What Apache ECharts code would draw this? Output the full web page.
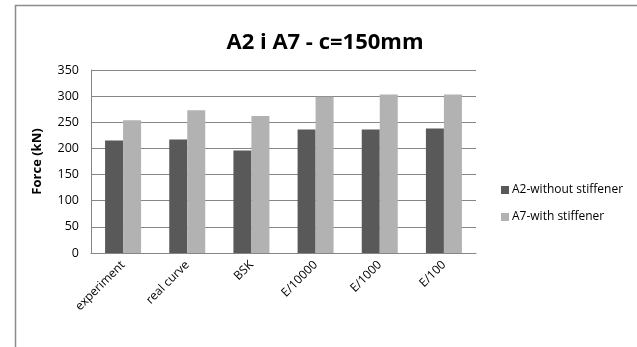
<!DOCTYPE html>
<html><head><meta charset="utf-8">
<script src="https://cdn.jsdelivr.net/npm/echarts@6/dist/echarts.min.js"></script>
<style>html,body{margin:0;padding:0;background:#fff}#c{width:637px;height:347px}</style>
</head><body><div id="c"></div>
<script>
const categories = ["experiment", "real curve", "BSK", "E/10000", "E/1000", "E/100"];
const a2Values = [215, 217, 196, 236, 236, 238];
const a7Values = [254, 273, 262, 299, 303, 303];
const seriesNames = ["A2-without stiffener", "A7-with stiffener"];
const titleText = "A2 i A7 - c=150mm";
const yAxisName = "Force (kN)";

const font = "'Open Sans', 'Noto Sans', sans-serif";
const chart = echarts.init(document.getElementById('c'), null, {renderer: 'canvas'});
chart.setOption({
  animation: false,
  backgroundColor: '#fff',
  graphic: [{
    type: 'rect', left: 13, top: 3, silent: true,
    shape: {width: 623, height: 370},
    style: {fill: 'none', stroke: '#8c8c8c', lineWidth: 1.5}
  }],
  title: {
    text: titleText, left: 320, top: 27, textAlign: 'center',
    textStyle: {fontFamily: font, fontSize: 22, fontWeight: 'bold', color: '#000'}
  },
  legend: {
    orient: 'vertical', left: 496, top: 179, itemGap: 15,
    itemWidth: 8, itemHeight: 8, icon: 'rect',
    textStyle: {fontFamily: font, fontSize: 12, color: '#000', padding: [0,0,0,-2]},
    data: seriesNames
  },
  grid: {left: 91, right: 161, top: 70, bottom: 94, containLabel: false},
  xAxis: {
    type: 'category', data: categories,
    axisLine: {lineStyle: {color: '#868686', width: 1}},
    axisTick: {show: false},
    axisLabel: {rotate: 45, fontFamily: font, fontSize: 12, color: '#000', margin: 10, interval: 0}
  },
  yAxis: {
    type: 'value', min: 0, max: 350, interval: 50,
    name: yAxisName, nameLocation: 'middle', nameGap: 47,
    nameTextStyle: {fontFamily: font, fontSize: 13, fontWeight: 'bold', color: '#000'},
    axisLine: {show: true, lineStyle: {color: '#868686'}},
    axisTick: {show: false},
    axisLabel: {fontFamily: font, fontSize: 12.5, color: '#000', margin: 12},
    splitLine: {lineStyle: {color: '#868686', width: 1}}
  },
  series: [
    {name: seriesNames[0], type: 'bar', data: a2Values, barWidth: 18, barGap: '0%',
     itemStyle: {color: '#595959'}},
    {name: seriesNames[1], type: 'bar', data: a7Values, barWidth: 18,
     itemStyle: {color: '#b2b2b2'}}
  ]
});
</script></body></html>
